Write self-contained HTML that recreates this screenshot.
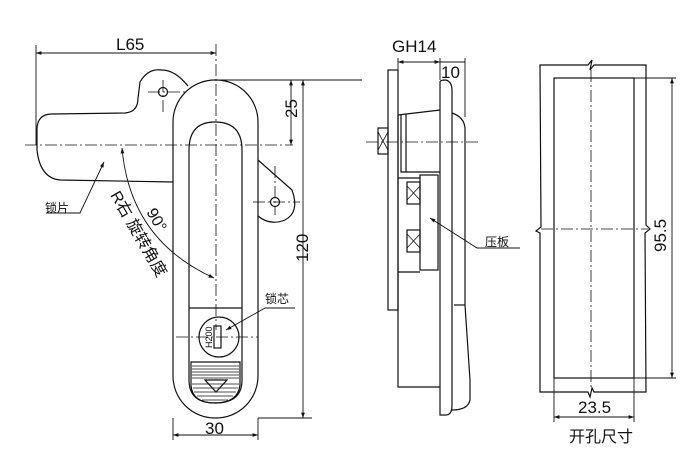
<!DOCTYPE html>
<html><head><meta charset="utf-8"><style>
html,body{margin:0;padding:0;background:#fff;}
svg{display:block;}
text{font-family:"Liberation Sans","Noto Sans CJK SC",sans-serif;fill:#111;}
</style></head><body>
<svg width="700" height="460" viewBox="0 0 700 460" xmlns="http://www.w3.org/2000/svg">
<defs>
<marker id="a" viewBox="0 0 10 10" refX="10" refY="5" markerWidth="9" markerHeight="6" orient="auto-start-reverse"><path d="M0,1.5 L10,5 L0,8.5z" fill="#111"/></marker>
</defs>
<g stroke="#111" stroke-width="1.2" fill="none">
<!-- LEFT VIEW -->
<!-- lock plate -->
<path d="M173,182 L60,180 Q40,178 37,150 L37,128 Q38,114 52,114 L125,113 Q138,112 138,98 L140,82 Q148,68 162,70 Q175,70 188,86"/>
<circle cx="163" cy="92" r="4.5"/>
<!-- body -->
<rect x="173" y="80" width="85" height="338" rx="42" ry="42"/>
<path d="M189,308 L189,150 Q189,122 215,122 Q242,122 242,150 L242,308 M189,308 L242,308 M189,308 L189,380 Q189,403 215,403 Q242,403 242,380 L242,308"/>
<circle cx="219" cy="337" r="20"/>
<rect x="214" y="326" width="7" height="22"/>
<!-- grip hatching -->
<path d="M191,362 L240,362 L240,385 Q238,403 215,403 Q192,403 191,385 Z"/>
<path d="M205,380 L227,380 L216,392 Z" fill="#fff"/>
<!-- right tab -->
<path d="M258,160 L292,190 Q300,212 285,220 Q270,226 258,216"/>
<circle cx="275" cy="202" r="4.5"/>
</g>
<g stroke="#111" stroke-width="0.8">
<line x1="192" y1="366" x2="239" y2="366"/><line x1="192" y1="369" x2="239" y2="369"/><line x1="192" y1="372" x2="239" y2="372"/><line x1="192" y1="375" x2="239" y2="375"/><line x1="192" y1="378" x2="239" y2="378"/><line x1="192" y1="384" x2="239" y2="384"/><line x1="193" y1="388" x2="238" y2="388"/><line x1="194" y1="392" x2="236" y2="392"/><line x1="197" y1="396" x2="233" y2="396"/><line x1="202" y1="400" x2="228" y2="400"/>
</g>
<g stroke="#111" stroke-width="0.8" fill="none" stroke-dasharray="12,3,2,3">
<line x1="25" y1="145" x2="293" y2="145"/>
<line x1="216" y1="44" x2="216" y2="330"/>
<line x1="163" y1="80" x2="163" y2="112"/><line x1="148" y1="92" x2="186" y2="92"/>
<line x1="275" y1="166" x2="275" y2="215"/><line x1="253" y1="202" x2="300" y2="202"/>
<line x1="176" y1="337" x2="258" y2="337"/>
</g>
<g stroke="#111" stroke-width="0.9" fill="none">
<line x1="36" y1="45" x2="36" y2="145"/>
<line x1="36" y1="53" x2="216" y2="53" marker-start="url(#a)" marker-end="url(#a)"/>
<line x1="216" y1="80" x2="362" y2="80"/>
<line x1="258" y1="418" x2="312" y2="418"/>
<line x1="291" y1="80" x2="291" y2="145" marker-start="url(#a)" marker-end="url(#a)"/>
<line x1="303" y1="80" x2="303" y2="418" marker-start="url(#a)" marker-end="url(#a)"/>
<line x1="173" y1="418" x2="173" y2="440"/><line x1="258" y1="418" x2="258" y2="440"/>
<line x1="173" y1="435" x2="258" y2="435" marker-start="url(#a)" marker-end="url(#a)"/>
<path d="M46,213 L80,213 L104,162" marker-end="url(#a)"/>
<path d="M122,148 Q130,240 214,278" marker-start="url(#a)" marker-end="url(#a)"/>
<path d="M295,308 L265,308 L226,330" marker-end="url(#a)"/>
</g>
<text x="116" y="50" font-size="17">L65</text>
<text x="205" y="434" font-size="17">30</text>
<text font-size="17" transform="translate(297,118) rotate(-90)">25</text>
<text font-size="17" transform="translate(308,262) rotate(-90)">120</text>
<text x="45" y="212" font-size="12">锁片</text>
<text x="265" y="303" font-size="12">锁芯</text>
<text font-size="9" transform="translate(212,348) rotate(-90)">H200</text>
<text font-size="16" transform="translate(110,195) rotate(60)">R右 旋转角度</text>
<text font-size="16" transform="translate(146,212) rotate(60)">90°</text>

<!-- SIDE VIEW -->
<g stroke="#111" stroke-width="1.2" fill="none">
<rect x="388" y="70" width="10" height="240"/>
<path d="M440,82 Q440,80 446,80 Q452,82 452,90 L452,405 Q452,415 446,415 L440,415 Z"/>
<path d="M452,113 Q464,117 465,128 L465,305 L470,380 L470,400 Q468,410 452,410"/>
<line x1="454" y1="305" x2="465" y2="305"/>
<path d="M398,115 L440,110 M398,115 L398,387 L440,387"/>
<path d="M401,114 L401,172 L440,172 M406,114 L406,172"/>
<rect x="420" y="175" width="18" height="95"/>
<path d="M398,178 L420,178 M398,272 L420,272"/>
<rect x="378" y="128" width="10" height="26"/>
<rect x="407" y="182" width="13" height="22"/>
<rect x="407" y="230" width="13" height="22"/>
</g>
<g stroke="#111" stroke-width="0.8">
<path d="M378,132 L388,150 M378,150 L388,132 M407,186 L420,200 M407,200 L420,186 M407,234 L420,248 M407,248 L420,234" fill="none"/>
</g>
<g stroke="#111" stroke-width="0.8" fill="none" stroke-dasharray="12,3,2,3">
<line x1="366" y1="142" x2="478" y2="142"/>
</g>
<g stroke="#111" stroke-width="0.9" fill="none">
<line x1="398" y1="58" x2="398" y2="70"/><line x1="440" y1="58" x2="440" y2="80"/><line x1="465" y1="58" x2="465" y2="117"/>
<line x1="398" y1="62" x2="440" y2="62" marker-start="url(#a)" marker-end="url(#a)"/>
<line x1="440" y1="62" x2="465" y2="62"/>
<path d="M520,248 L477,248 L430,218" marker-end="url(#a)"/>
</g>
<text x="392" y="52" font-size="17">GH14</text>
<text x="441" y="78" font-size="17">10</text>
<text x="485" y="246" font-size="12">压板</text>

<!-- CUTOUT -->
<g stroke="#111" stroke-width="1.2" fill="none">
<path d="M540,65 L588,65 L592,60 L590,70 L594,65 L646,65 L646,225 L650,229 L645,233 L646,392 L594,392 L592,388 L590,397 L588,392 L540,392 L540,233 L536,231 L541,227 Z"/>
<rect x="554" y="78" width="80" height="300"/>
</g>
<g stroke="#111" stroke-width="0.8" fill="none" stroke-dasharray="12,3,2,3">
<line x1="591" y1="70" x2="591" y2="390"/>
<line x1="541" y1="229" x2="648" y2="229"/>
</g>
<g stroke="#111" stroke-width="0.9" fill="none">
<line x1="634" y1="78" x2="676" y2="78"/><line x1="634" y1="378" x2="676" y2="378"/>
<line x1="672" y1="78" x2="672" y2="378" marker-start="url(#a)" marker-end="url(#a)"/>
<line x1="554" y1="378" x2="554" y2="422"/><line x1="634" y1="378" x2="634" y2="422"/>
<line x1="554" y1="417" x2="634" y2="417" marker-start="url(#a)" marker-end="url(#a)"/>
</g>
<text font-size="17" transform="translate(666,252) rotate(-90)">95.5</text>
<text x="578" y="413" font-size="17">23.5</text>
<text x="569" y="442" font-size="16">开孔尺寸</text>
</svg>
</body></html>
